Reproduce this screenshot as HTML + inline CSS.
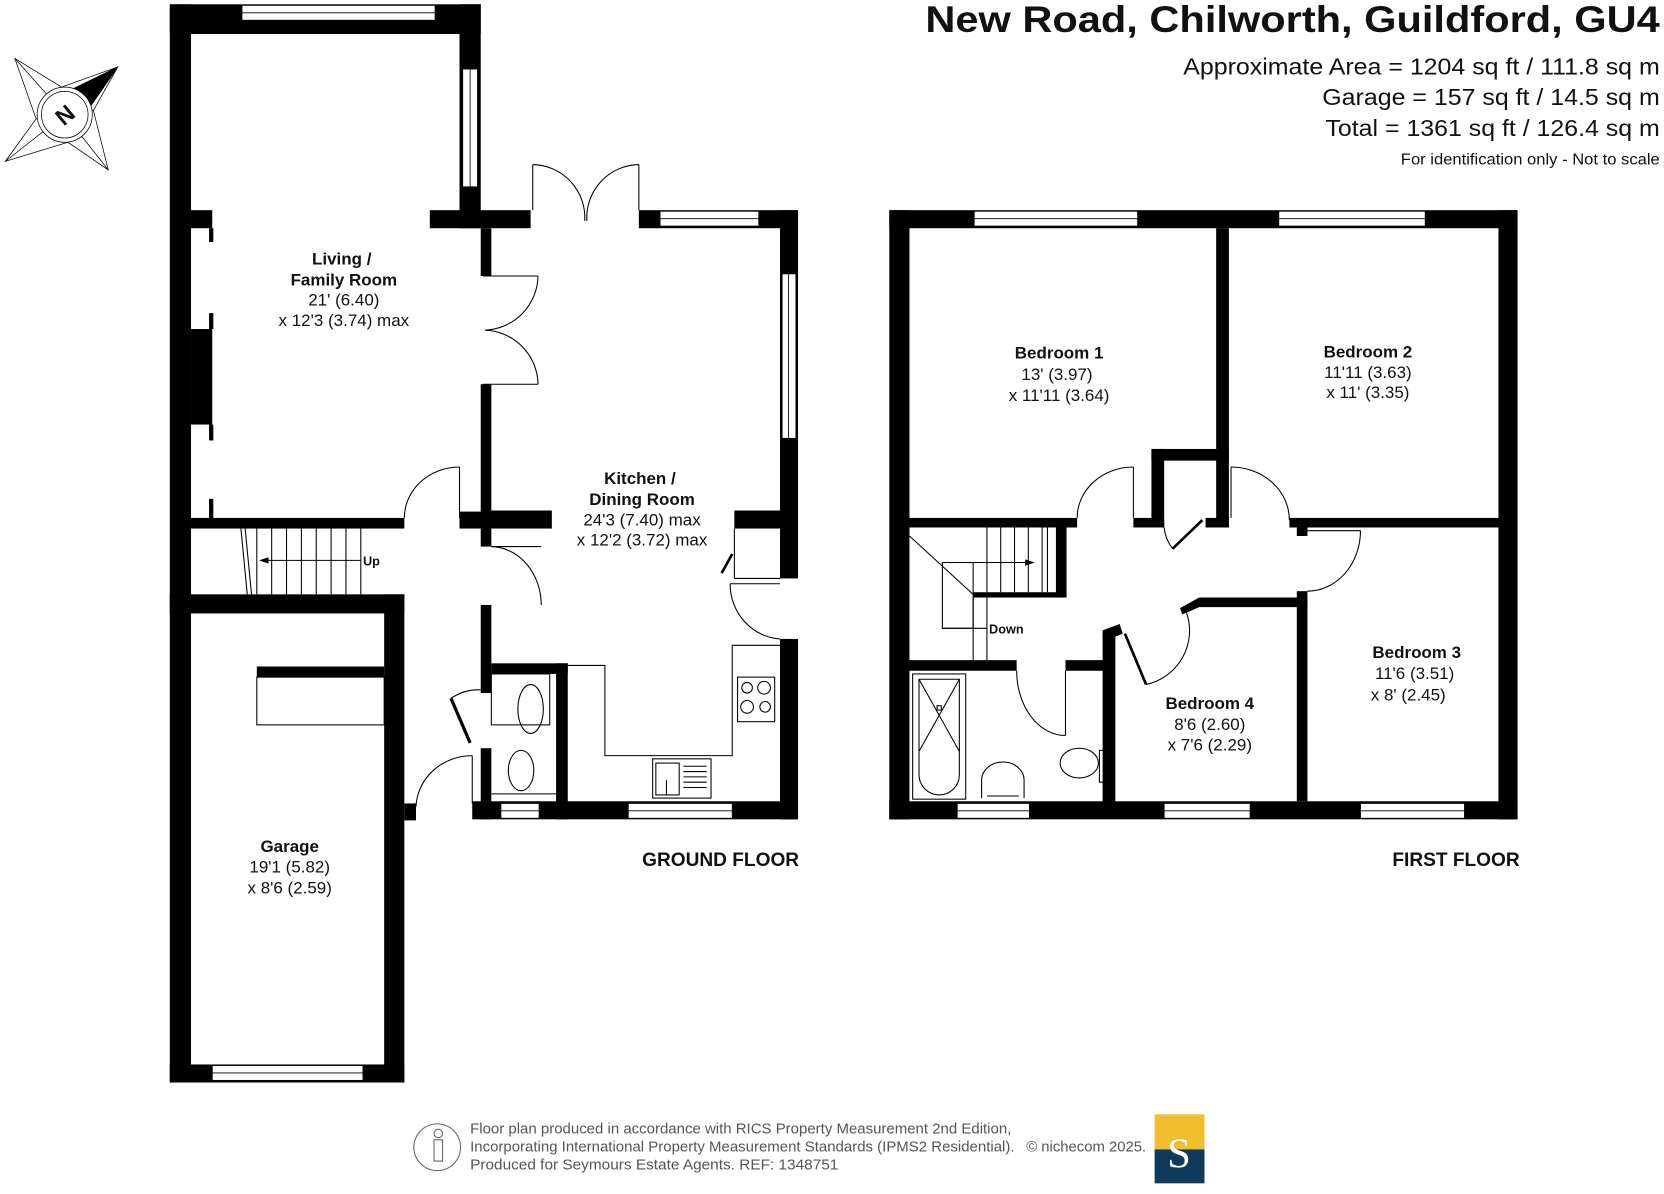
<!DOCTYPE html>
<html><head><meta charset="utf-8"><style>
html,body{margin:0;padding:0;background:#fff;}
svg{display:block;}
text{font-family:"Liberation Sans",Arial,sans-serif;fill:#111;}
.b{font-weight:bold;}
</style></head><body>
<svg width="1664" height="1194" viewBox="0 0 1568 1125" xmlns="http://www.w3.org/2000/svg">
<rect width="1568" height="1125" fill="#fff"/>
<!-- compass -->
<g stroke="#000" stroke-width="0.7" fill="#fff">
<polygon points="14,55 58,82 111,63 88,104 102,160 64,134 5,152 34,112"/>
<line x1="14" y1="55" x2="61" y2="108"/><line x1="5" y1="152" x2="61" y2="108"/><line x1="102" y1="160" x2="61" y2="108"/>
<line x1="58" y1="82" x2="61" y2="108"/><line x1="88" y1="104" x2="61" y2="108"/><line x1="64" y1="134" x2="61" y2="108"/><line x1="34" y1="112" x2="61" y2="108"/>
<polygon points="111,63 70,83 86,99" fill="#000"/>
<circle cx="61" cy="108" r="26"/><circle cx="61" cy="108" r="22"/>
</g>
<text x="61" y="116" font-size="22" class="b" text-anchor="middle" transform="rotate(-40 61 108)">N</text>

<!-- GROUND FLOOR walls -->
<g fill="#000">
<rect x="160" y="4" width="20" height="1016"/>
<rect x="160" y="4" width="293" height="28"/>
<rect x="433" y="4" width="20" height="211"/>
<rect x="405" y="198" width="95" height="17"/>
<rect x="180" y="198" width="20" height="17"/><rect x="197" y="215" width="4" height="13"/>
<rect x="180" y="310" width="20" height="90"/><rect x="197" y="295" width="4" height="15"/><rect x="197" y="400" width="4" height="15"/>
<rect x="197" y="470" width="4" height="20"/>
<rect x="602" y="198" width="150" height="17"/>
<rect x="735" y="198" width="17" height="347"/>
<rect x="735" y="602" width="17" height="170"/>
<rect x="453" y="215" width="10" height="45"/>
<rect x="453" y="362" width="10" height="135"/>
<rect x="463" y="481" width="57" height="17"/>
<rect x="692" y="481" width="43" height="17"/>
<rect x="180" y="488" width="201" height="10"/>
<rect x="433" y="482" width="30" height="16"/>
<rect x="453" y="482" width="10" height="33"/>
<rect x="160" y="560" width="221" height="18"/>
<rect x="362" y="560" width="19" height="460"/>
<rect x="160" y="1003" width="221" height="17"/>
<rect x="381" y="757" width="11" height="16"/>
<rect x="242" y="628" width="120" height="10"/>
<rect x="453" y="570" width="10" height="83"/>
<rect x="453" y="705" width="10" height="67"/>
<rect x="463" y="625" width="72" height="10"/>
<rect x="524" y="625" width="11" height="147"/>
<rect x="445" y="755" width="307" height="17"/>
</g>
<!-- windows ground -->
<g fill="#fff" stroke="#000" stroke-width="0.8">
<rect x="228" y="5" width="182" height="14"/><line x1="228" y1="12" x2="410" y2="12"/>
<rect x="436" y="65" width="14" height="111"/><line x1="443" y1="65" x2="443" y2="176"/>
<rect x="622" y="199" width="93" height="14"/><line x1="622" y1="206" x2="715" y2="206"/>
<rect x="737" y="258" width="13" height="155"/><line x1="743" y1="258" x2="743" y2="413"/>
<rect x="200" y="1004" width="142" height="14"/><line x1="200" y1="1011" x2="342" y2="1011"/>
<rect x="472" y="757" width="36" height="14"/><line x1="472" y1="764" x2="508" y2="764"/>
<rect x="592" y="757" width="98" height="14"/><line x1="592" y1="764" x2="690" y2="764"/>
</g>
<!-- doors / fixtures ground -->
<g fill="none" stroke="#000" stroke-width="1">
<line x1="502" y1="155" x2="502" y2="198"/><line x1="602" y1="155" x2="602" y2="198"/>
<path d="M502,155 A50,50 0 0 1 551,208"/><path d="M602,155 A50,50 0 0 0 553,208"/>
<line x1="455" y1="260" x2="507" y2="260"/><line x1="455" y1="362" x2="507" y2="362"/>
<path d="M507,260 A52,52 0 0 1 457,311"/><path d="M507,362 A52,52 0 0 0 457,311"/>
<line x1="433" y1="440" x2="433" y2="488"/><path d="M433,440 A52,48 0 0 0 381,488"/>
<line x1="463" y1="515" x2="510" y2="515"/><path d="M463,515 A48,55 0 0 1 510,570"/>
<path d="M735,602 A50,52 0 0 1 688,550"/><line x1="688" y1="550" x2="735" y2="550"/>
<line x1="692" y1="498" x2="692" y2="545"/><line x1="692" y1="545" x2="735" y2="545"/>
<path d="M680,540 L690,522" stroke-width="2.5"/>
<line x1="445" y1="712" x2="445" y2="757"/><path d="M445,712 A53,50 0 0 0 392,760"/>
<path d="M425,658 L443,700" stroke-width="3"/><path d="M425,658 A45,45 0 0 1 453,650"/>
<path d="M535,627 L570,627 L570,712 L690,712 L690,608 L735,608"/>
<rect x="242" y="638" width="120" height="45"/>
<rect x="695" y="638" width="35" height="42"/>
<circle cx="704" cy="648" r="5"/><circle cx="720" cy="648" r="6"/><circle cx="704" cy="666" r="6"/><circle cx="721" cy="666" r="5"/>
<rect x="615" y="715" width="55" height="37"/><rect x="618" y="719" width="22" height="30"/>
<line x1="628" y1="735" x2="628" y2="749"/>
<line x1="644" y1="722" x2="666" y2="722"/><line x1="644" y1="727" x2="666" y2="727"/><line x1="644" y1="732" x2="666" y2="732"/><line x1="644" y1="737" x2="666" y2="737"/><line x1="644" y1="742" x2="666" y2="742"/>
<rect x="463" y="635" width="55" height="48"/><ellipse cx="500" cy="668" rx="12" ry="23"/>
<ellipse cx="491" cy="726" rx="12" ry="19"/><line x1="463" y1="748" x2="524" y2="748"/>
<line x1="227" y1="498" x2="233" y2="560"/><line x1="231" y1="498" x2="237" y2="560"/>
<line x1="242" y1="498" x2="242" y2="560"/><line x1="256" y1="498" x2="256" y2="560"/><line x1="270" y1="498" x2="270" y2="560"/><line x1="284" y1="498" x2="284" y2="560"/><line x1="298" y1="498" x2="298" y2="560"/><line x1="312" y1="498" x2="312" y2="560"/><line x1="326" y1="498" x2="326" y2="560"/><line x1="340" y1="498" x2="340" y2="560"/>
<line x1="248" y1="528" x2="340" y2="528"/>
</g>
<polygon points="244,528 253,525 253,531" fill="#000"/>
<text x="342" y="533" font-size="12" class="b">Up</text>

<!-- FIRST FLOOR walls -->
<g fill="#000">
<rect x="838" y="198" width="592" height="17"/>
<rect x="838" y="198" width="19" height="574"/>
<rect x="1412" y="198" width="18" height="574"/>
<rect x="838" y="755" width="592" height="17"/>
<rect x="1146" y="215" width="12" height="282"/>
<rect x="1085" y="423" width="73" height="11"/>
<rect x="1085" y="423" width="12" height="74"/>
<rect x="857" y="488" width="158" height="9"/>
<rect x="1068" y="488" width="29" height="9"/>
<rect x="1136" y="488" width="22" height="9"/>
<rect x="1215" y="488" width="197" height="9"/>
<rect x="1222" y="497" width="10" height="8"/>
<rect x="1222" y="557" width="10" height="198"/>
<polygon points="1112,573 1130,563 1232,563 1232,572 1130,572 1114,579"/>
<rect x="1039" y="596" width="12" height="160"/>
<polygon points="1039,594 1055,588 1058,597 1051,600 1039,602"/>
<rect x="857" y="622" width="101" height="10"/>
<rect x="1004" y="622" width="37" height="10"/>
<rect x="995" y="497" width="10" height="66"/>
<rect x="917" y="558" width="88" height="5"/>
</g>
<g fill="#fff" stroke="#000" stroke-width="0.8">
<rect x="918" y="199" width="154" height="14"/><line x1="918" y1="206" x2="1072" y2="206"/>
<rect x="1205" y="199" width="138" height="14"/><line x1="1205" y1="206" x2="1343" y2="206"/>
<rect x="902" y="757" width="68" height="14"/><line x1="902" y1="764" x2="970" y2="764"/>
<rect x="1097" y="757" width="81" height="14"/><line x1="1097" y1="764" x2="1178" y2="764"/>
<rect x="1282" y="757" width="98" height="14"/><line x1="1282" y1="764" x2="1380" y2="764"/>
</g>
<g fill="none" stroke="#000" stroke-width="1">
<line x1="1068" y1="440" x2="1068" y2="488"/><path d="M1068,440 A53,48 0 0 0 1015,488"/>
<path d="M1105,517 L1133,490" stroke-width="2.5"/><path d="M1105,517 A38,38 0 0 1 1097,497"/>
<line x1="1160" y1="440" x2="1160" y2="488"/><path d="M1160,440 A55,50 0 0 1 1215,490"/>
<line x1="1232" y1="500" x2="1282" y2="500"/><path d="M1282,500 A50,57 0 0 1 1232,557"/>
<path d="M1060,597 L1080,645" stroke-width="2.5"/><path d="M1080,645 A52,52 0 0 0 1118,577"/>
<line x1="1004" y1="632" x2="1004" y2="693"/><path d="M958,632 A46,61 0 0 0 1004,693"/>
<line x1="857" y1="505" x2="917" y2="560"/>
<rect x="888" y="530" width="29" height="62"/>
<line x1="888" y1="592" x2="930" y2="592"/>
<line x1="917" y1="563" x2="917" y2="622"/><line x1="930" y1="563" x2="930" y2="622"/>
<line x1="930" y1="497" x2="930" y2="558"/><line x1="943" y1="497" x2="943" y2="558"/><line x1="956" y1="497" x2="956" y2="558"/><line x1="969" y1="497" x2="969" y2="558"/><line x1="982" y1="497" x2="982" y2="558"/><line x1="987" y1="497" x2="987" y2="558"/>
<line x1="905" y1="530" x2="968" y2="530"/>
<rect x="860" y="635" width="50" height="118"/>
<path d="M866,640 L904,640 L904,730 A19,19 0 0 1 866,730 Z"/>
<line x1="866" y1="640" x2="904" y2="708"/><line x1="904" y1="640" x2="866" y2="708"/>
<rect x="883" y="665" width="4" height="4"/>
<path d="M925,752 L925,735 A20,17 0 0 1 965,735 L965,752"/><line x1="930" y1="750" x2="960" y2="750"/>
<ellipse cx="1017" cy="719" rx="18" ry="14"/><rect x="1036" y="707" width="6" height="30"/>
</g>
<polygon points="975,530 966,527 966,533" fill="#000"/>
<text x="932" y="597" font-size="12" class="b">Down</text>

<!-- room labels -->
<g font-size="16" text-anchor="middle">
<text x="322" y="249" class="b">Living /</text>
<text x="324" y="269" class="b">Family Room</text>
<text x="324" y="288">21' (6.40)</text>
<text x="324" y="307">x 12'3 (3.74) max</text>
<text x="603" y="456" class="b">Kitchen /</text>
<text x="605" y="476" class="b">Dining Room</text>
<text x="605" y="495">24'3 (7.40) max</text>
<text x="605" y="514">x 12'2 (3.72) max</text>
<text x="273" y="803" class="b">Garage</text>
<text x="273" y="822">19'1 (5.82)</text>
<text x="273" y="842">x 8'6 (2.59)</text>
<text x="998" y="338" class="b">Bedroom 1</text>
<text x="996" y="358">13' (3.97)</text>
<text x="998" y="378">x 11'11 (3.64)</text>
<text x="1289" y="337" class="b">Bedroom 2</text>
<text x="1289" y="356">11'11 (3.63)</text>
<text x="1289" y="375">x 11' (3.35)</text>
<text x="1335" y="620" class="b">Bedroom 3</text>
<text x="1333" y="640">11'6 (3.51)</text>
<text x="1327" y="660">x 8' (2.45)</text>
<text x="1140" y="668" class="b">Bedroom 4</text>
<text x="1140" y="688">8'6 (2.60)</text>
<text x="1140" y="707">x 7'6 (2.29)</text>
</g>
<text x="753" y="816" font-size="18" class="b" text-anchor="end">GROUND FLOOR</text>
<text x="1432" y="816" font-size="18" class="b" text-anchor="end">FIRST FLOOR</text>

<!-- header -->
<text x="1564" y="30" font-size="35" class="b" text-anchor="end" textLength="692" lengthAdjust="spacingAndGlyphs">New Road, Chilworth, Guildford, GU4</text>
<g font-size="22" text-anchor="end">
<text x="1564" y="70" textLength="449" lengthAdjust="spacingAndGlyphs">Approximate Area = 1204 sq ft / 111.8 sq m</text>
<text x="1564" y="99" textLength="318" lengthAdjust="spacingAndGlyphs">Garage = 157 sq ft / 14.5 sq m</text>
<text x="1564" y="128" textLength="315" lengthAdjust="spacingAndGlyphs">Total = 1361 sq ft / 126.4 sq m</text>
</g>
<text x="1564" y="155" font-size="15" text-anchor="end" textLength="244" lengthAdjust="spacingAndGlyphs">For identification only - Not to scale</text>

<!-- footer -->
<circle cx="412" cy="1081" r="22" fill="none" stroke="#666" stroke-width="1"/>
<circle cx="413" cy="1068" r="4" fill="none" stroke="#666"/>
<path d="M409,1074 L417,1074 L417,1094 L409,1094 Z" fill="none" stroke="#666"/>
<g font-size="13.5">
<text x="443" y="1068" style="fill:#555" textLength="510" lengthAdjust="spacingAndGlyphs">Floor plan produced in accordance with RICS Property Measurement 2nd Edition,</text>
<text x="443" y="1085" style="fill:#555" textLength="513" lengthAdjust="spacingAndGlyphs">Incorporating International Property Measurement Standards (IPMS2 Residential).</text>
<text x="443" y="1102" style="fill:#555" textLength="347" lengthAdjust="spacingAndGlyphs">Produced for Seymours Estate Agents.   REF: 1348751</text>
<text x="967" y="1085" style="fill:#555" textLength="113" lengthAdjust="spacingAndGlyphs">© nichecom 2025.</text>
</g>
<rect x="1088" y="1050" width="47" height="33" fill="#f0be2e"/>
<rect x="1088" y="1083" width="47" height="32" fill="#0e3b5b"/>
<text x="1111" y="1100" font-size="40" text-anchor="middle" style="fill:#fff;font-family:'Liberation Serif',serif">S</text>
</svg>
</body></html>
